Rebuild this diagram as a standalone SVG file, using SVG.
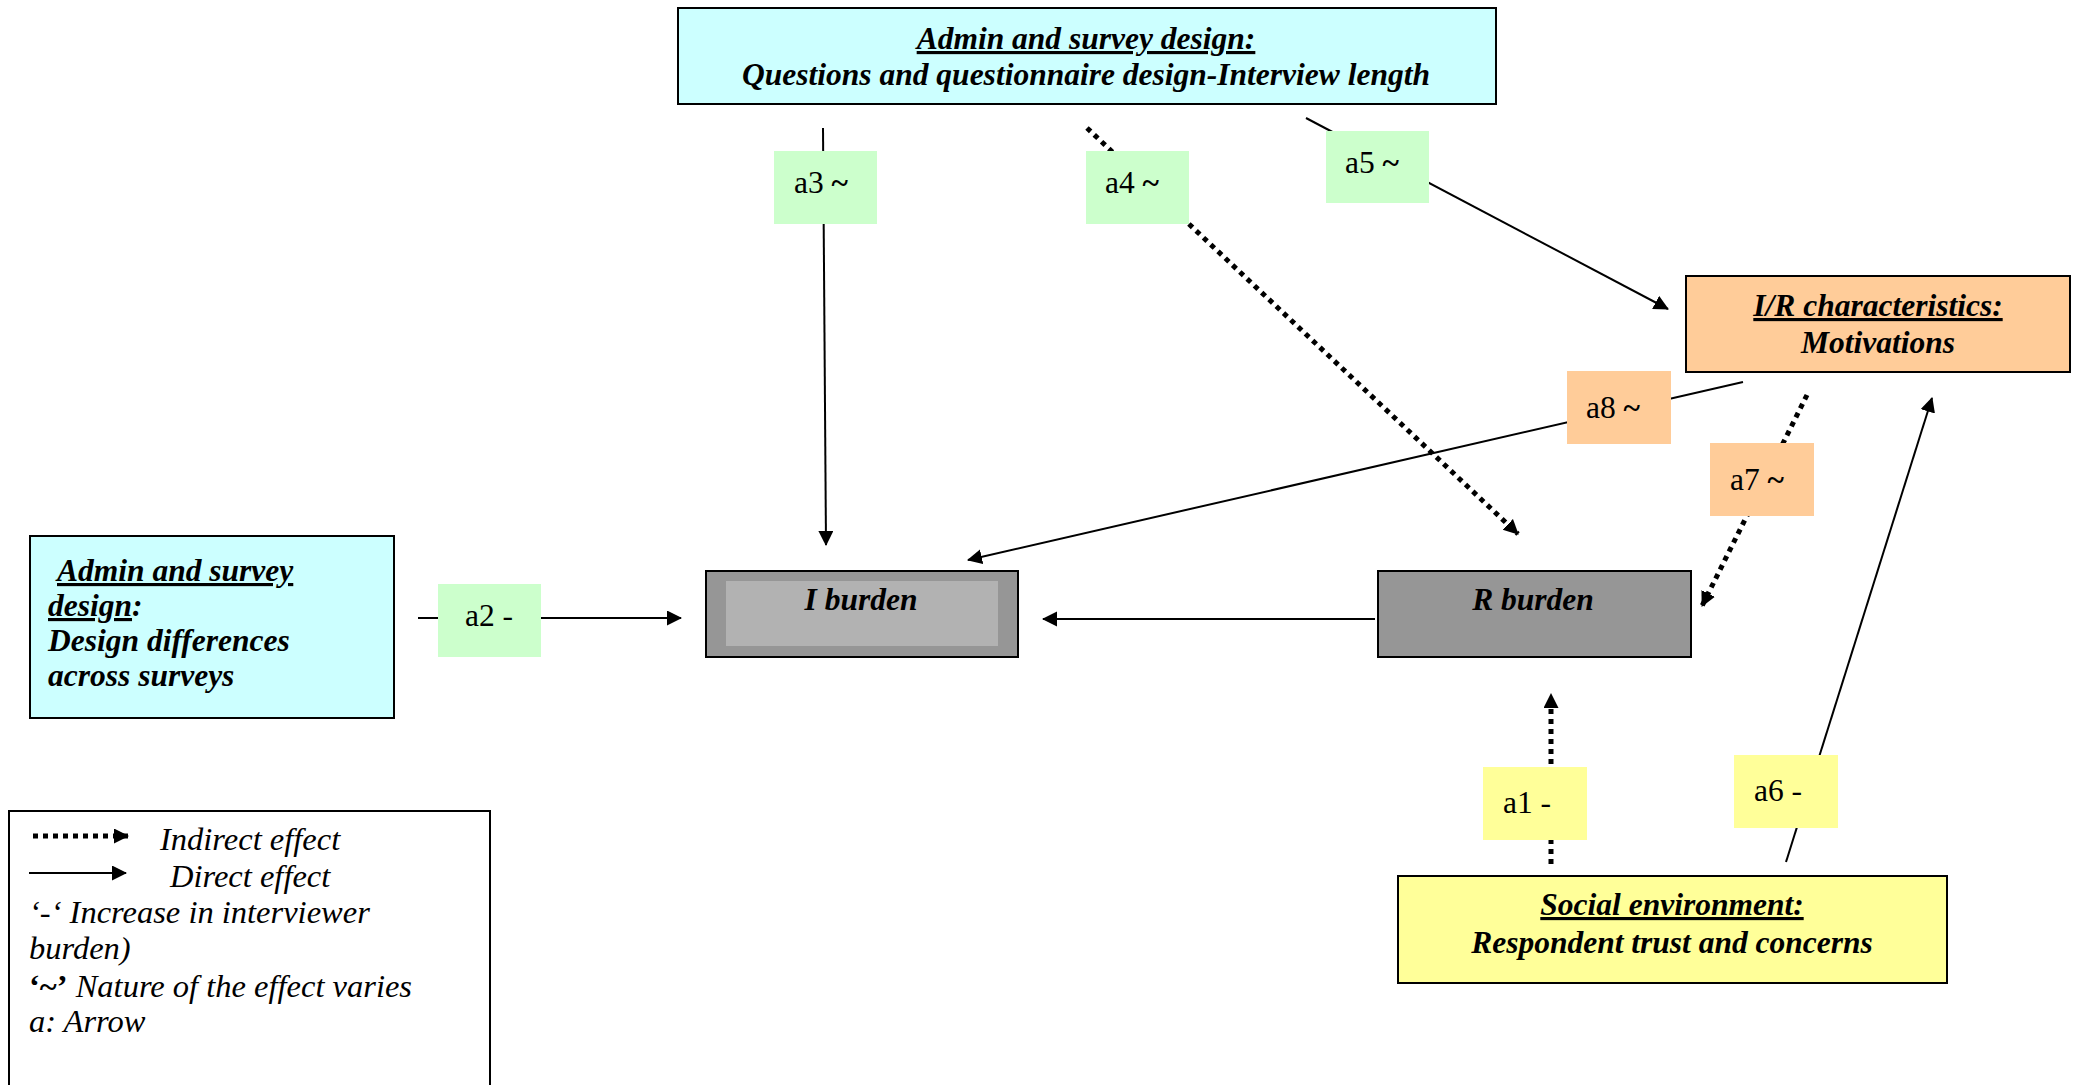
<svg xmlns="http://www.w3.org/2000/svg" width="2081" height="1085" viewBox="0 0 2081 1085">
<style>
.box{stroke:#000;stroke-width:2}
.hd{font-family:"Liberation Serif","Times New Roman",serif;font-weight:bold;font-style:italic;font-size:31.5px;fill:#000}
.u{text-decoration:underline}
.lbl{font-family:"Liberation Serif","Times New Roman",serif;font-size:31.5px;fill:#000}
.t{font-weight:bold}
.leg{font-family:"Liberation Serif","Times New Roman",serif;font-style:italic;font-size:32.5px;fill:#000}
.solid{stroke:#000;stroke-width:2;fill:none}
.dot{stroke:#000;stroke-width:5;stroke-dasharray:5 5;fill:none}
</style>
<defs>
<marker id="ah" markerUnits="userSpaceOnUse" markerWidth="16" markerHeight="16" refX="14" refY="7.5" orient="auto">
<path d="M0,0 L15,7.5 L0,15 z" fill="#000"/>
</marker>
</defs>
<rect width="2081" height="1085" fill="#fff"/>

<g id="connectors">
<line id="c-a3" class="solid" x1="823" y1="128" x2="826" y2="545" marker-end="url(#ah)"/>
<line id="c-a4" class="dot" x1="1087" y1="128" x2="1518" y2="534" marker-end="url(#ah)"/>
<line id="c-a5" class="solid" x1="1306" y1="118" x2="1668" y2="309" marker-end="url(#ah)"/>
<line id="c-a8" class="solid" x1="1743" y1="382" x2="968" y2="560" marker-end="url(#ah)"/>
<line id="c-a7" class="dot" x1="1807" y1="395" x2="1702" y2="606" marker-end="url(#ah)"/>
<line id="c-a2" class="solid" x1="418" y1="618" x2="681" y2="618" marker-end="url(#ah)"/>
<line id="c-rb" class="solid" x1="1375" y1="619" x2="1043" y2="619" marker-end="url(#ah)"/>
<line id="c-a1" class="dot" x1="1551" y1="864" x2="1551" y2="694" marker-end="url(#ah)"/>
<line id="c-a6" class="solid" x1="1786" y1="862" x2="1932" y2="398" marker-end="url(#ah)"/>
</g>

<g id="top-design">
<rect class="box" x="678" y="8" width="818" height="96" fill="#CCFFFF"/>
<text class="hd" x="1086" y="49" text-anchor="middle"><tspan class="u">Admin and survey design:</tspan></text>
<text class="hd" x="1086" y="85" text-anchor="middle">Questions and questionnaire design-Interview length</text>
</g>

<g id="ir-char">
<rect class="box" x="1686" y="276" width="384" height="96" fill="#FFCC99"/>
<text class="hd" x="1878" y="316" text-anchor="middle"><tspan class="u">I/R characteristics:</tspan></text>
<text class="hd" x="1878" y="353" text-anchor="middle">Motivations</text>
</g>

<g id="left-design">
<rect class="box" x="30" y="536" width="364" height="182" fill="#CCFFFF"/>
<text class="hd" x="57" y="581"><tspan class="u">Admin and survey</tspan></text>
<text class="hd" x="48" y="616"><tspan class="u">design</tspan>:</text>
<text class="hd" x="48" y="651">Design differences</text>
<text class="hd" x="48" y="686">across surveys</text>
</g>

<g id="i-burden">
<rect class="box" x="706" y="571" width="312" height="86" fill="#969696"/>
<rect x="726" y="581" width="272" height="65" fill="#B2B2B2"/>
<text class="hd" x="861" y="610" text-anchor="middle">I burden</text>
</g>

<g id="r-burden">
<rect class="box" x="1378" y="571" width="313" height="86" fill="#969696"/>
<text class="hd" x="1533" y="610" text-anchor="middle">R burden</text>
</g>

<g id="social-env">
<rect class="box" x="1398" y="876" width="549" height="107" fill="#FFFF99"/>
<text class="hd" x="1672" y="915" text-anchor="middle"><tspan class="u">Social environment:</tspan></text>
<text class="hd" x="1672" y="953" text-anchor="middle">Respondent trust and concerns</text>
</g>

<g id="labels">
<g id="lbl-a3"><rect x="774" y="151" width="103" height="73" fill="#CCFFCC"/><text class="lbl" x="794" y="193">a3 <tspan class="t">~</tspan></text></g>
<g id="lbl-a4"><rect x="1086" y="151" width="103" height="73" fill="#CCFFCC"/><text class="lbl" x="1105" y="193">a4 <tspan class="t">~</tspan></text></g>
<g id="lbl-a5"><rect x="1326" y="131" width="103" height="72" fill="#CCFFCC"/><text class="lbl" x="1345" y="173">a5 <tspan class="t">~</tspan></text></g>
<g id="lbl-a2"><rect x="438" y="584" width="103" height="73" fill="#CCFFCC"/><text class="lbl" x="465" y="626">a2 -</text></g>
<g id="lbl-a8"><rect x="1567" y="371" width="104" height="73" fill="#FFCC99"/><text class="lbl" x="1586" y="418">a8 <tspan class="t">~</tspan></text></g>
<g id="lbl-a7"><rect x="1710" y="443" width="104" height="73" fill="#FFCC99"/><text class="lbl" x="1730" y="490">a7 <tspan class="t">~</tspan></text></g>
<g id="lbl-a1"><rect x="1483" y="767" width="104" height="73" fill="#FFFF99"/><text class="lbl" x="1503" y="813">a1 -</text></g>
<g id="lbl-a6"><rect x="1734" y="755" width="104" height="73" fill="#FFFF99"/><text class="lbl" x="1754" y="801">a6 -</text></g>
</g>

<g id="legend">
<rect x="9" y="811" width="481" height="300" fill="#fff" stroke="#000" stroke-width="2"/>
<line class="dot" x1="33" y1="836" x2="128" y2="836" marker-end="url(#ah)"/>
<line class="solid" x1="29" y1="873" x2="126" y2="873" marker-end="url(#ah)"/>
<text class="leg" x="160" y="850">Indirect effect</text>
<text class="leg" x="170" y="887">Direct effect</text>
<text class="leg" x="29" y="923">‘-‘ Increase in interviewer</text>
<text class="leg" x="29" y="959">burden)</text>
<text class="leg" x="29" y="997"><tspan font-weight="bold" font-style="normal">‘~’</tspan> Nature of the effect varies</text>
<text class="leg" x="29" y="1032">a: Arrow</text>
</g>
</svg>
